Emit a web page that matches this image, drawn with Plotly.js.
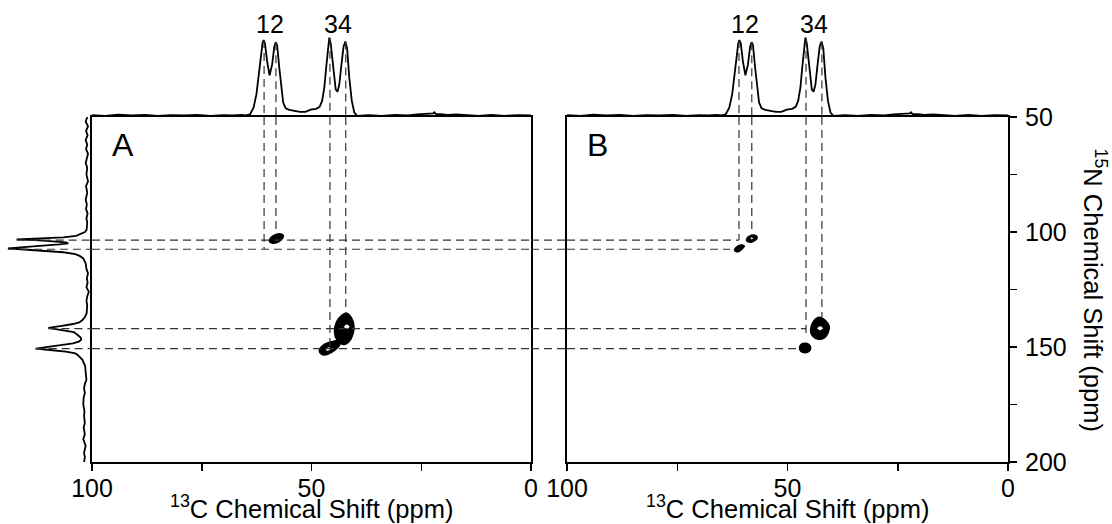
<!DOCTYPE html>
<html><head><meta charset="utf-8">
<script src="https://cdn.plot.ly/plotly-3.0.1.min.js"></script>
<style>html,body{margin:0;padding:0;background:#fff}#chart{width:1112px;height:524px}</style>
</head><body><div id="chart"></div>
<script>
// ---- 1D 13C projection (top), ppm vs normalised intensity ----
const topC = [100,97,94,91,88,85,82,79,76,73,70,68,66,65,64.0,63.2,62.55,61.98,61.57,61.16,60.92,60.6,60.11,59.55,58.97,58.47,58.15,57.83,57.33,56.85,56.45,55.88,55.06,53.85,52.62,51.39,50.17,48.95,48.15,47.58,47.08,46.67,46.35,45.95,45.63,45.13,44.49,44.08,43.67,43.10,42.69,42.28,41.89,41.39,40.82,40.25,39.61,37,34,31,28,26,24,23,22.3,22.0,21.6,20.5,19,17,15,12,9,6,3,0];
const topI = [0.01,0.0,0.015,0.005,0.012,0.0,0.01,0.005,0.012,0.0,0.01,0.005,0.012,0.005,0.02,0.105,0.274,0.527,0.78,0.928,0.97,0.928,0.696,0.519,0.654,0.886,0.941,0.907,0.612,0.316,0.169,0.097,0.076,0.063,0.05,0.05,0.08,0.089,0.114,0.19,0.359,0.612,0.823,1.0,0.928,0.654,0.338,0.308,0.40,0.696,0.886,0.949,0.865,0.485,0.19,0.042,0.0,0.01,0.0,0.012,0.005,0.018,0.025,0.02,0.03,0.045,0.02,0.02,0.012,0.018,0.008,0.0,0.012,0.0,0.01,0.005];

// ---- 1D 15N projection (left of panel A) ----
const leftN = [50,52,54,56,58,60,62,64,66,68,70,72,75,78,80,83,86,88,90,92,94,96,98,99.1,100.0,100.9,101.7,102.3,102.8,103.2,103.6,104.0,104.5,104.9,105.4,106.0,106.6,107.1,107.6,108.2,108.8,109.6,110.5,111.5,113.6,116,118,120,122,124,126,128,130,132,134,135.4,137,138.3,139.3,140.0,140.7,141.2,141.7,142.3,142.9,143.5,144.8,146.0,146.7,147.6,148.4,149.0,149.6,150.3,150.7,151.3,152.0,152.8,153.5,155.6,158.5,161,164.3,166,168,170,172,175,178,180,183,185,188,190,193,196,198,200];
const leftI = [0.0,0.02,-0.01,0.015,-0.005,0.02,0.0,0.015,-0.01,0.01,0.02,0.0,0.01,-0.01,0.015,0.0,0.02,0.005,0.015,-0.005,0.01,0.0,0.01,0.008,0.03,0.08,0.14,0.3,0.55,0.89,0.6,0.4,0.27,0.24,0.35,0.6,0.85,1.0,0.8,0.5,0.3,0.15,0.09,0.05,0.02,0.01,-0.01,0.005,-0.005,0.01,-0.02,0.0,0.01,0.0,0.01,0.008,0.03,0.06,0.1,0.18,0.3,0.4,0.49,0.38,0.25,0.17,0.12,0.08,0.075,0.1,0.18,0.3,0.45,0.6,0.65,0.47,0.27,0.15,0.12,0.06,0.025,0.02,0.01,0.03,0.04,0.03,0.045,0.05,0.035,0.04,0.03,0.045,0.03,0.05,0.02,0.04,0.03,0.04];

// ---- 2D cross-peak outlines (13C ppm, 15N ppm) ----
const blobA2_C = [59.57,59.0,57.86,56.72,56.38,56.95,58.09,59.23];
const blobA2_N = [104.13,104.78,104.57,103.04,101.74,100.87,101.09,102.39];
const blobA3_C = [48.22,47.45,46.17,44.65,43.51,44.12,45.4,47.31];
const blobA3_N = [151.6,153.35,153.04,151.3,148.7,147.39,147.7,149.13];
const blobA4_C = [41.98,40.89,40.32,40.55,41.34,42.6,44.19,44.76,44.31,43.17];
const blobA4_N = [135.35,137.39,141.17,144.35,147.39,148.91,146.96,143.48,139.13,136.3];
const holeA3_C = [46.7,46.1,45.65,46.25];
const holeA3_N = [151.3,151.45,150.5,150.35];
const holeA4_C = [42.55,42.0,41.4,41.95];
const holeA4_N = [141.2,140.35,141.15,142.0];

const blobB1_C = [62.02,61.22,60.32,59.8,60.54,61.68];
const blobB1_N = [108.04,108.57,107.39,106.09,105.65,106.74];
const blobB2_C = [59.3,58.5,57.37,56.85,57.37,58.28,59.07];
const blobB2_N = [103.7,104.48,103.7,102.39,101.43,101.52,102.39];
const blobB3_C = [47.28,46.94,46.03,45.12,44.74,45.12,46.03,46.94];
const blobB3_N = [150.43,151.96,152.48,151.96,150.43,148.91,148.39,148.91];
const blobB4_C = [42.86,41.5,40.52,40.82,41.5,43.02,44.33,44.74,44.15];
const blobB4_N = [137.09,138.26,141.17,143.91,145.78,146.65,145.22,143.35,139];
const holeB2_C = [58.35,58.1,57.85,58.1];
const holeB2_N = [102.75,102.45,102.75,103.05];
const holeB4_C = [43.2,42.6,42.0,42.6];
const holeB4_N = [141.9,141.1,141.85,142.6];

// ---- guide lines and peak labels ----
const peakLabels = ['12','34'];
const peakLabelPairs = [[0,1],[2,3]];
const vLineC_A = [60.8,58.1,45.8,42.2];
const vLineEndN_A = [107.5,100.9,150.7,135.4];
const vLineC_B = [61.0,58.1,45.8,42.2];
const vLineEndN_B = [103.5,101.4,145.0,137.1];
const topTipI = [0.97,0.94,1.0,0.95];
const hLineN = [103.5,107.5,142.0,150.7];
const hLineTipI = [0.89,1.0,0.49,0.65];
const hLineEndC_B = [61.0,63.0,45.8,47.3];
const xTitle = '<sup>13</sup>C Chemical Shift (ppm)';
const yTitle = '<sup>15</sup>N Chemical Shift (ppm)';

// ---- layout geometry ----
const W = 1112, H = 524;
const domLeft = [0, 92/W];
const domA = [92/W, 531/W];
const domB = [567/W, 1008/W];
const dom2D = [1-462/H, 1-117/H];
const domTop = [1-117/H, 1-22/H];
const FONT = 'Liberation Sans, Arial, Helvetica, sans-serif';
const DASH = '8px,5px';
const DCOL = '#333';

function joinShapes(list){
  const c=[], n=[];
  list.forEach(([cc,nn])=>{ cc.forEach((v,i)=>{c.push(v); n.push(nn[i]);}); c.push(cc[0]); n.push(nn[0]); c.push(null); n.push(null); });
  return [c,n];
}

const traces = [];
traces.push({type:'scatter',mode:'lines',x:topC,y:topI,xaxis:'x',yaxis:'y3',line:{color:'#000',width:1.8},hoverinfo:'skip',showlegend:false});
traces.push({type:'scatter',mode:'lines',x:topC,y:topI,xaxis:'x2',yaxis:'y4',line:{color:'#000',width:1.8},hoverinfo:'skip',showlegend:false});
traces.push({type:'scatter',mode:'lines',x:leftI,y:leftN,xaxis:'x5',yaxis:'y',line:{color:'#000',width:1.8},hoverinfo:'skip',showlegend:false});

const [aC,aN] = joinShapes([[blobA2_C,blobA2_N],[blobA3_C,blobA3_N],[blobA4_C,blobA4_N]]);
const [ahC,ahN] = joinShapes([[holeA3_C,holeA3_N],[holeA4_C,holeA4_N]]);
const [bC,bN] = joinShapes([[blobB1_C,blobB1_N],[blobB2_C,blobB2_N],[blobB3_C,blobB3_N],[blobB4_C,blobB4_N]]);
const [bhC,bhN] = joinShapes([[holeB2_C,holeB2_N],[holeB4_C,holeB4_N]]);
traces.push({type:'scatter',mode:'lines',x:aC,y:aN,xaxis:'x',yaxis:'y',fill:'toself',fillcolor:'#000',line:{color:'#000',width:1.5,shape:'spline'},hoverinfo:'skip',showlegend:false});
traces.push({type:'scatter',mode:'lines',x:ahC,y:ahN,xaxis:'x',yaxis:'y',fill:'toself',fillcolor:'#fff',line:{color:'#fff',width:0.5,shape:'spline'},hoverinfo:'skip',showlegend:false});
traces.push({type:'scatter',mode:'lines',x:bC,y:bN,xaxis:'x2',yaxis:'y2',fill:'toself',fillcolor:'#000',line:{color:'#000',width:1.5,shape:'spline'},hoverinfo:'skip',showlegend:false});
traces.push({type:'scatter',mode:'lines',x:bhC,y:bhN,xaxis:'x2',yaxis:'y2',fill:'toself',fillcolor:'#fff',line:{color:'#fff',width:0.5,shape:'spline'},hoverinfo:'skip',showlegend:false});

const shapes = [];
const dl = {color:DCOL,width:1.2,dash:DASH};
function seg(xref,yref,x0,x1,y0,y1){ shapes.push({type:'line',xref,yref,x0,x1,y0,y1,line:dl,layer:'above'}); }
for(let i=0;i<4;i++){
  seg('x','y3',vLineC_A[i],vLineC_A[i],topTipI[i],-0.015);
  seg('x','y',vLineC_A[i],vLineC_A[i],50,vLineEndN_A[i]);
  seg('x2','y4',vLineC_B[i],vLineC_B[i],topTipI[i],-0.015);
  seg('x2','y2',vLineC_B[i],vLineC_B[i],50,vLineEndN_B[i]);
  seg('x5','y',hLineTipI[i],-0.06,hLineN[i],hLineN[i]);
  seg('x','y',100,0,hLineN[i],hLineN[i]);
  seg('paper','y',domA[1],domB[0],hLineN[i],hLineN[i]);
  seg('x2','y2',100,hLineEndC_B[i],hLineN[i],hLineN[i]);
}

const labFont = {family:FONT,size:25,color:'#000'};
const annotations = [];
peakLabels.forEach((t,k)=>{
  const [p,q] = peakLabelPairs[k];
  annotations.push({xref:'x',yref:'y3',x:(vLineC_A[p]+vLineC_A[q])/2,y:1.18,text:t,showarrow:false,font:labFont,xanchor:'center',yanchor:'middle'});
  annotations.push({xref:'x2',yref:'y4',x:(vLineC_B[p]+vLineC_B[q])/2,y:1.18,text:t,showarrow:false,font:labFont,xanchor:'center',yanchor:'middle'});
});
annotations.push({xref:'x domain',yref:'y domain',x:0.07,y:0.92,text:'A',showarrow:false,font:{family:FONT,size:32,color:'#000'},xanchor:'center',yanchor:'middle'});
annotations.push({xref:'x2 domain',yref:'y2 domain',x:0.07,y:0.92,text:'B',showarrow:false,font:{family:FONT,size:32,color:'#000'},xanchor:'center',yanchor:'middle'});
const titleFont = {family:FONT,size:25.5,color:'#000'};
annotations.push({xref:'x domain',yref:'paper',x:0.5,y:0,text:xTitle,showarrow:false,font:titleFont,xanchor:'center',yanchor:'bottom',borderpad:0});
annotations.push({xref:'x2 domain',yref:'paper',x:0.5,y:0,text:xTitle,showarrow:false,font:titleFont,xanchor:'center',yanchor:'bottom',borderpad:0});
annotations.push({xref:'paper',yref:'paper',x:1095/W,y:(dom2D[0]+dom2D[1])/2,text:yTitle,textangle:90,showarrow:false,font:titleFont,xanchor:'center',yanchor:'middle'});

const tickFont = {family:FONT,size:25,color:'#000'};
function cAxis(dom,anchor){
  return {domain:dom,anchor:anchor,range:[100,0],autorange:false,showline:true,linewidth:2,linecolor:'#000',mirror:true,
    ticks:'outside',ticklen:7,tickwidth:1.5,tickcolor:'#000',tickmode:'linear',tick0:0,dtick:50,ticklabelstandoff:-4,
    minor:{dtick:25,ticks:'outside',ticklen:7,tickwidth:1.5,tickcolor:'#000'},
    showgrid:false,zeroline:false,tickfont:tickFont,automargin:false};
}
const layout = {
  width:W,height:H,margin:{l:0,r:0,t:0,b:0},paper_bgcolor:'#fff',plot_bgcolor:'rgba(0,0,0,0)',showlegend:false,
  font:{family:FONT,color:'#000'},
  xaxis:cAxis(domA,'y'),
  xaxis2:cAxis(domB,'y2'),
  yaxis:{domain:dom2D,anchor:'x',range:[200,50],autorange:false,showline:true,linewidth:2,linecolor:'#000',mirror:true,ticks:'',showticklabels:false,showgrid:false,zeroline:false,automargin:false},
  yaxis2:{domain:dom2D,anchor:'x2',side:'right',range:[200,50],autorange:false,showline:true,linewidth:2,linecolor:'#000',mirror:true,
    ticks:'outside',ticklen:7,tickwidth:1.5,tickcolor:'#000',tickmode:'linear',tick0:0,dtick:50,ticklabelstandoff:3,
    minor:{dtick:25,ticks:'outside',ticklen:7,tickwidth:1.5,tickcolor:'#000'},
    showgrid:false,zeroline:false,tickfont:tickFont,automargin:false},
  yaxis3:{domain:domTop,anchor:'x',range:[-0.015,1.2],autorange:false,visible:false},
  yaxis4:{domain:domTop,anchor:'x2',range:[-0.015,1.2],autorange:false,visible:false},
  xaxis5:{domain:domLeft,anchor:'y',range:[1.1,-0.06],autorange:false,visible:false},
  shapes:shapes,annotations:annotations
};
Plotly.newPlot('chart',traces,layout,{staticPlot:true,displayModeBar:false});
</script></body></html>
